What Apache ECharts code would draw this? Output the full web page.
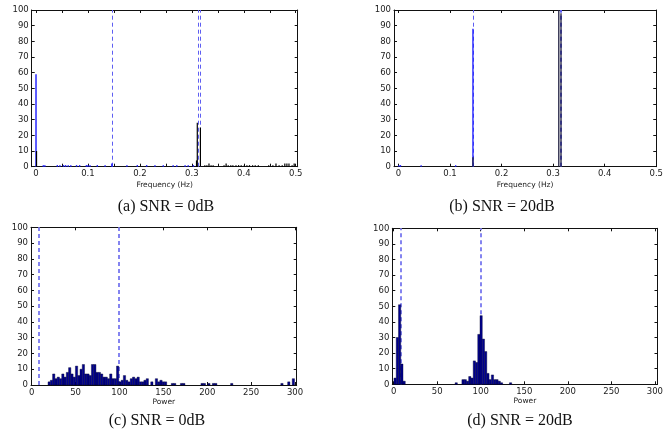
<!DOCTYPE html>
<html><head><meta charset="utf-8">
<script src="https://cdn.jsdelivr.net/npm/echarts@6/dist/echarts.min.js"></script>
<style>html,body{margin:0;padding:0;background:#fff}#c{width:666px;height:433px}</style>
</head><body><div id="c"></div>
<script>
// ---------- DATA ----------
// (a) SNR = 0dB : frequency estimate counts
const aBlueFreq  = [0.000, 0.014, 0.017, 0.041, 0.046, 0.053, 0.057, 0.062, 0.067, 0.078, 0.084, 0.097, 0.100, 0.104, 0.118, 0.133, 0.146, 0.175, 0.195, 0.213, 0.229, 0.245, 0.264, 0.271, 0.287, 0.293, 0.303];
const aBlueCount = [59, 1, 1, 1, 1, 1, 1, 1, 1, 1, 1, 1, 1, 1, 1, 1, 2, 1, 1, 1, 1, 1, 1, 1, 1, 1, 1];
const aBlackFreq  = [0.001, 0.309, 0.3105, 0.3165, 0.325, 0.329, 0.333, 0.337, 0.341, 0.362, 0.366, 0.370, 0.375, 0.379, 0.385, 0.390, 0.395, 0.401, 0.406, 0.411, 0.417, 0.422, 0.428, 0.448, 0.456, 0.462, 0.468, 0.474, 0.479, 0.483, 0.487, 0.493, 0.497];
const aBlackCount = [10, 4, 28, 25, 1, 1, 2, 1, 1, 1, 2, 1, 1, 1, 1, 1, 1, 1, 1, 1, 1, 1, 1, 1, 1, 2, 1, 1, 2, 2, 2, 1, 2];
// (b) SNR = 20dB
const bBlueFreq  = [0.001, 0.004, 0.044, 0.111, 0.1445];
const bBlueCount = [1, 1, 1, 1, 88];
const bBlackFreq  = [0.1445, 0.311, 0.3153];
const bBlackCount = [6, 100, 98];
const trueFreqs = [0.1455, 0.3125, 0.316];
const freqTicks  = [0, 0.05, 0.1, 0.15, 0.2, 0.25, 0.3, 0.35, 0.4, 0.45, 0.5];
const freqTicksB = [0, 0.1, 0.2, 0.3, 0.4, 0.5];
const freqLabels = [0, 0.1, 0.2, 0.3, 0.4, 0.5];
// (c),(d) power histograms: bin k spans [BIN0 + k*BINW, BIN0 + (k+1)*BINW]
const BIN0 = 0.4, BINW = 2.6;
const cBins   = [7,8,9,10,11,12,13,14,15,16,17,18,19,20,21,22,23,24,25,26,27,28,29,30,31,32,33,34,35,36,37,38,39,40,41,42,43,44,45,46,47,48,49,50,52,54,55,56,57,58,61,62,65,66,74,75,77,79,80,87,109,112,114];
const cCounts = [2,3,7,4,5,4,7,5,8,11,7,5,12,6,10,13,7,7,6,13,13,8,8,7,5,5,4,7,4,4,12,2,3,6,3,2,4,5,4,5,2,2,3,4,2,4,2,3,2,2,1,1,1,1,1,1,1,1,1,1,1,2,4];
const dBins   = [0,1,2,3,4,27,30,31,32,33,34,35,36,37,38,39,40,41,42,43,44,45,46,47,51];
const dCounts = [4,30,51,13,2,1,3,3,2,5,4,15,14,32,44,29,21,7,3,6,3,3,2,1,1];
const truePowers = [8.5, 100];
const powerTicks = [0, 50, 100, 150, 200, 250, 300];
const captions = ['(a) SNR = 0dB', '(b) SNR = 20dB', '(c) SNR = 0dB', '(d) SNR = 20dB'];

// ---------- LAYOUT ----------
const grids = [
  {left: 31.7, top: 10, width: 266, height: 156.7},
  {left: 394, top: 10, width: 266, height: 156.7},
  {left: 31, top: 227.3, width: 265.7, height: 157.7},
  {left: 392.3, top: 228.3, width: 265.7, height: 156}
];
const xr = [[-0.0083, 0.5038], [-0.0086, 0.5], [-0.8, 301.9], [-1.5, 303]];
const xNames = ['Frequency (Hz)', 'Frequency (Hz)', 'Power', 'Power'];
const xTicks = [freqTicks, freqTicksB, powerTicks, powerTicks];
const xLabs  = [freqLabels, freqLabels, powerTicks, powerTicks];
const capPos = [[166, 207], [502, 207], [157, 421], [520, 421]];

const FONT = 'DejaVu Sans';
const lineC = '#111';
const xAxes = [], yAxes = [];
grids.forEach((g, i) => {
  xAxes.push({type: 'value', gridIndex: i, min: xr[i][0], max: xr[i][1], position: 'bottom',
    axisLine: {show: true, onZero: false, lineStyle: {color: lineC, width: 1}},
    axisTick: {show: true, inside: true, length: 3, customValues: xTicks[i], lineStyle: {color: lineC}},
    axisLabel: {show: true, customValues: xLabs[i], fontSize: 8.5, fontFamily: FONT, color: '#222', margin: 3},
    splitLine: {show: false},
    name: xNames[i], nameLocation: 'middle', nameGap: i < 2 ? 14 : 13,
    nameTextStyle: {fontSize: 7.5, fontFamily: FONT, color: '#222'}});
  xAxes.push({type: 'value', gridIndex: i, min: xr[i][0], max: xr[i][1], position: 'top',
    axisLine: {show: true, onZero: false, lineStyle: {color: lineC, width: 1}},
    axisTick: {show: true, inside: true, length: 3, customValues: xTicks[i], lineStyle: {color: lineC}},
    axisLabel: {show: false}, splitLine: {show: false}});
  yAxes.push({type: 'value', gridIndex: i, min: 0, max: 100, interval: 10, position: 'left',
    axisLine: {show: true, onZero: false, lineStyle: {color: lineC, width: 1}},
    axisTick: {show: true, inside: true, length: 3, lineStyle: {color: lineC}},
    axisLabel: {show: true, fontSize: 8.5, fontFamily: FONT, color: '#222', margin: 3},
    splitLine: {show: false}});
  yAxes.push({type: 'value', gridIndex: i, min: 0, max: 100, interval: 10, position: 'right',
    axisLine: {show: true, onZero: false, lineStyle: {color: lineC, width: 1}},
    axisTick: {show: true, inside: true, length: 3, lineStyle: {color: lineC}},
    axisLabel: {show: false}, splitLine: {show: false}});
});

// dashed reference lines, snapped to whole pixels so they stay crisp
function vlines(i, xs, lw, color) {
  return {type: 'custom', xAxisIndex: 2 * i, yAxisIndex: 2 * i, z: 1, silent: true,
    data: xs.map(x => [x, 100]), encode: {x: 0, y: 1},
    renderItem: (p, api) => {
      const a = api.coord([api.value(0), 0]), b = api.coord([api.value(0), api.value(1)]);
      const px = lw === 2 ? 2 * Math.round((a[0] - 1) / 2) + 1 : Math.round(a[0]) + 0.5;
      return {type: 'line', shape: {x1: px, y1: a[1], x2: px, y2: b[1]},
        style: {stroke: color, lineWidth: lw, lineDash: [4, 3], fill: null}};
    }};
}
function stems(i, xs, ys, color, w, z) {
  return {type: 'custom', xAxisIndex: 2 * i, yAxisIndex: 2 * i, z: z, silent: true,
    data: xs.map((x, j) => [x, ys[j]]), encode: {x: 0, y: 1},
    renderItem: (p, api) => {
      const b = api.coord([api.value(0), 0]), t = api.coord([api.value(0), api.value(1)]);
      return {type: 'rect', shape: {x: b[0] - w / 2, y: t[1], width: w, height: b[1] - t[1]},
        style: {fill: color}};
    }};
}
function hist(i, bins, counts) {
  return {type: 'custom', xAxisIndex: 2 * i, yAxisIndex: 2 * i, z: 3, silent: true,
    data: bins.map((k, j) => [BIN0 + k * BINW, BIN0 + (k + 1) * BINW, counts[j]]),
    encode: {x: [0, 1], y: 2},
    renderItem: (p, api) => {
      const a = api.coord([api.value(0), 0]), b = api.coord([api.value(1), api.value(2)]);
      return {type: 'rect', shape: {x: a[0], y: b[1], width: b[0] - a[0], height: a[1] - b[1]},
        style: {fill: '#00008f', stroke: '#000028', lineWidth: 0.4}};
    }};
}

const series = [
  vlines(0, trueFreqs, 1, '#5e5ef2'),
  stems(0, aBlueFreq, aBlueCount, '#1a1aff', 1.4, 3),
  stems(0, aBlackFreq, aBlackCount, '#000000', 1.2, 4),
  vlines(1, trueFreqs, 1, '#5e5ef2'),
  stems(1, bBlueFreq, bBlueCount, '#1a1aff', 1.3, 3),
  stems(1, bBlackFreq, bBlackCount, '#202040', 1.3, 4),
  vlines(2, truePowers, 2, '#8484f0'),
  hist(2, cBins, cCounts),
  vlines(3, truePowers, 2, '#8484f0'),
  hist(3, dBins, dCounts)
];

const graphic = captions.map((t, i) => ({type: 'text', x: capPos[i][0], y: capPos[i][1], z: 10,
  style: {text: t, textAlign: 'center', textVerticalAlign: 'middle', fill: '#111',
    font: '16px "Liberation Serif"'}}));

const chart = echarts.init(document.getElementById('c'), null, {renderer: 'canvas'});
chart.setOption({animation: false, backgroundColor: '#fff', grid: grids, xAxis: xAxes, yAxis: yAxes, series: series, graphic: graphic});
</script></body></html>
